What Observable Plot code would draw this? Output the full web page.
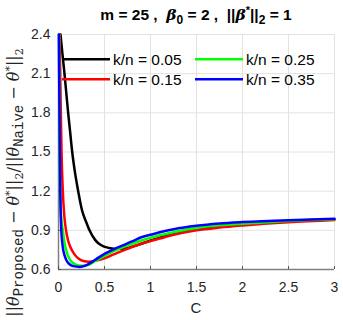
<!DOCTYPE html>
<html><head><meta charset="utf-8">
<script src="https://cdn.jsdelivr.net/npm/d3@7"></script>
<script src="https://cdn.jsdelivr.net/npm/@observablehq/plot@0.6"></script>
<style>body{margin:0;background:#fff} #chart{position:relative;width:343px;height:320px}</style>
</head><body><div id="chart"></div>
<script>
const seriesNames = ["k/n = 0.05", "k/n = 0.15", "k/n = 0.25", "k/n = 0.35"];
const seriesColors = ["#000000", "#ff0000", "#00ff00", "#0000ff"];

const cBlack = [0.022, 0.04, 0.065, 0.085, 0.105, 0.127, 0.149, 0.18, 0.214, 0.257, 0.3, 0.337, 0.4, 0.46, 0.55, 0.65, 0.75, 0.85, 1.0, 1.25, 1.5, 2.0, 2.5, 3.0];
const vBlack = [2.4, 2.27, 2.1, 1.95, 1.8, 1.65, 1.5, 1.34, 1.2, 1.05, 0.965, 0.9, 0.825, 0.787, 0.765, 0.758, 0.765, 0.785, 0.822, 0.872, 0.908, 0.947, 0.969, 0.984];

const cRed = [0.012, 0.022, 0.033, 0.047, 0.062, 0.082, 0.105, 0.13, 0.17, 0.22, 0.27, 0.33, 0.4, 0.5, 0.6, 0.7, 0.8, 0.9, 1.0, 1.1, 1.25, 1.5, 1.75, 2.0, 2.5, 3.0];
const vRed = [2.4, 1.95, 1.5, 1.2, 1.02, 0.9, 0.82, 0.77, 0.72, 0.682, 0.665, 0.66, 0.666, 0.686, 0.716, 0.745, 0.772, 0.797, 0.818, 0.837, 0.865, 0.9, 0.921, 0.937, 0.962, 0.98];

const cGreen = [0.006, 0.011, 0.018, 0.03, 0.047, 0.06, 0.076, 0.1, 0.13, 0.18, 0.25, 0.32, 0.4, 0.5, 0.6, 0.7, 0.8, 0.9, 1.0, 1.1, 1.25, 1.5, 1.75, 2.0, 2.5, 3.0];
const vGreen = [2.4, 1.5, 1.2, 1.0, 0.9, 0.83, 0.77, 0.71, 0.669, 0.64, 0.628, 0.635, 0.665, 0.705, 0.74, 0.77, 0.796, 0.822, 0.843, 0.862, 0.886, 0.918, 0.938, 0.951, 0.972, 0.984];

const cBlue = [0.004, 0.01, 0.015, 0.02, 0.029, 0.047, 0.065, 0.087, 0.12, 0.16, 0.23, 0.3, 0.4, 0.5, 0.6, 0.7, 0.8, 0.9, 1.0, 1.1, 1.25, 1.5, 1.75, 2.0, 2.5, 3.0];
const vBlue = [2.4, 1.85, 1.45, 1.18, 0.92, 0.77, 0.71, 0.669, 0.64, 0.626, 0.62, 0.632, 0.675, 0.72, 0.755, 0.785, 0.815, 0.847, 0.866, 0.885, 0.908, 0.935, 0.952, 0.963, 0.978, 0.988];

const xTicks = [0, 0.5, 1, 1.5, 2, 2.5, 3];
const xTickLabels = ["0", "0.5", "1", "1.5", "2", "2.5", "3"];
const yTicks = [0.6, 0.9, 1.2, 1.5, 1.8, 2.1, 2.4];
const yTickLabels = ["0.6", "0.9", "1.2", "1.5", "1.8", "2.1", "2.4"];
const xLabel = "C";

const seriesC = [cBlack, cRed, cGreen, cBlue];
const seriesV = [vBlack, vRed, vGreen, vBlue];
const rows = [];
seriesNames.forEach((name, s) => {
  seriesC[s].forEach((c, i) => rows.push({C: c, V: seriesV[s][i], series: name}));
});

const W = 343, H = 320, mL = 58, mR = 9, mT = 34, mB = 51;
const sansFont = "'Liberation Sans', Arial, Helvetica, sans-serif";

const plot = Plot.plot({
  width: W, height: H,
  marginLeft: mL, marginRight: mR, marginTop: mT, marginBottom: mB,
  style: {fontFamily: sansFont, background: "white", overflow: "visible"},
  x: {domain: [0, 3]},
  y: {domain: [0.6, 2.4]},
  color: {domain: seriesNames, range: seriesColors},
  marks: [
    Plot.gridX(xTicks, {stroke: "#e2e2e2", strokeOpacity: 1, strokeWidth: 1}),
    Plot.gridY(yTicks, {stroke: "#e2e2e2", strokeOpacity: 1, strokeWidth: 1}),
    Plot.ruleX([0], {stroke: "#808080", strokeWidth: 1.5}),
    Plot.ruleY([0.6], {stroke: "#808080", strokeWidth: 1.5}),
    Plot.ruleX(xTicks, {y1: 0.6, y2: 0.6, insetTop: -3, stroke: "#555", strokeWidth: 1}),
    Plot.ruleY(yTicks, {x1: 0, x2: 0, insetRight: -3, stroke: "#555", strokeWidth: 1}),
    Plot.line(rows, {x: "C", y: "V", z: "series", stroke: "series", strokeWidth: 2.5, curve: "monotone-x"}),
    Plot.axisX(xTicks, {tickSize: 0, tickPadding: 13, tickFormat: d => xTickLabels[xTicks.indexOf(d)], fontSize: 14, fill: "#262626", label: null}),
    Plot.axisY(yTicks, {tickSize: 0, tickPadding: 8, tickFormat: d => yTickLabels[yTicks.indexOf(d)], fontSize: 14, fill: "#262626", label: null})
  ]
});

document.getElementById("chart").appendChild(plot);
const svg = d3.select(plot);
const cx = (mL + (W - mR)) / 2;

// Title
const title = svg.append("text")
  .attr("x", cx).attr("y", 20)
  .attr("text-anchor", "middle")
  .style("white-space", "pre")
  .style("font-family", sansFont).style("font-weight", "bold").style("font-size", "15.5px")
  .attr("fill", "#000");
title.append("tspan").text("m = 25 ,  ");
title.append("tspan").style("font-style", "italic").style("font-family", "'DejaVu Serif', serif").text("β");
title.append("tspan").attr("dy", 4).style("font-size", "12px").text("0");
title.append("tspan").attr("dy", -4).text(" = 2 ,  ||");
title.append("tspan").style("font-style", "italic").style("font-family", "'DejaVu Serif', serif").text("β");
title.append("tspan").attr("dy", -6).style("font-size", "11px").text("*");
title.append("tspan").attr("dy", 6).text("||");
title.append("tspan").attr("dy", 4).style("font-size", "12px").text("2");
title.append("tspan").attr("dy", -4).text(" = 1");

// X label
svg.append("text").attr("x", cx).attr("y", 313).attr("text-anchor", "middle")
  .style("font-family", sansFont).style("font-size", "15px").attr("fill", "#262626").text(xLabel);

// Y label
const serif = "'DejaVu Serif', 'Liberation Serif', serif";
const mono = "'Liberation Mono', 'DejaVu Sans Mono', monospace";
const yl = svg.append("text")
  .attr("transform", `translate(19,${(mT + (H - mB)) / 2 + 31}) rotate(-90)`)
  .attr("text-anchor", "middle")
  .style("white-space", "pre")
  .style("font-family", serif).style("font-size", "16px").attr("fill", "#262626");
function part(t, opts = {}) {
  const s = yl.append("tspan").text(t);
  if (opts.dy) s.attr("dy", opts.dy);
  if (opts.italic) s.style("font-style", "italic");
  if (opts.mono) s.style("font-family", mono);
  if (opts.size) s.style("font-size", opts.size + "px");
  return s;
}
part("||"); part("θ", {italic: true}); part("Proposed", {dy: 4, mono: true, size: 14});
part(" − ", {dy: -4}); part("θ", {italic: true}); part("*", {dy: -6, size: 11});
part("||", {dy: 6}); part("2", {dy: 4, size: 11});
part("/||", {dy: -4}); part("θ", {italic: true}); part("Naive", {dy: 4, mono: true, size: 14});
part(" − ", {dy: -4}); part("θ", {italic: true}); part("*", {dy: -6, size: 11});
part("||", {dy: 6}); part("2", {dy: 4, size: 11});

// Legend
const legCols = [62, 195], legRows = [59.3, 79.3], legLen = 48;
seriesNames.forEach((name, i) => {
  const col = Math.floor(i / 2), row = i % 2;
  const x0 = legCols[col], y0 = legRows[row];
  svg.append("line").attr("x1", x0).attr("x2", x0 + legLen).attr("y1", y0).attr("y2", y0)
    .attr("stroke", seriesColors[i]).attr("stroke-width", 2.5);
  svg.append("text").attr("x", x0 + legLen + 3).attr("y", y0).attr("dy", "0.35em")
    .attr("text-anchor", "start")
    .style("font-family", sansFont).style("font-size", "15.5px").attr("fill", "#000").text(name);
});
</script>
</body></html>
